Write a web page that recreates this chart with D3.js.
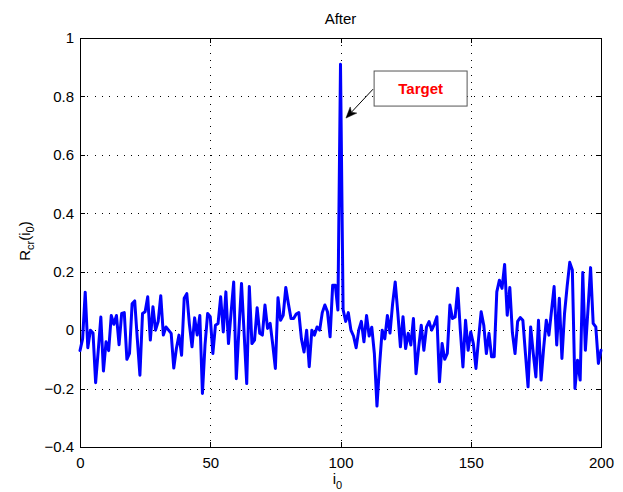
<!DOCTYPE html>
<html>
<head>
<meta charset="utf-8">
<script src="https://cdn.jsdelivr.net/npm/d3@7/dist/d3.min.js"></script>
<style>
  html, body { margin: 0; padding: 0; background: #fff; }
  svg { display: block; font-family: "Liberation Sans", Arial, Helvetica, sans-serif; }
</style>
</head>
<body>
<svg id="chart" width="623" height="492"></svg>
<script>
// ---------------- data ----------------
const titleText = "After";
const xTicks = [0, 50, 100, 150, 200];
const xTickLabels = ["0", "50", "100", "150", "200"];
const yTicks = [-0.4, -0.2, 0, 0.2, 0.4, 0.6, 0.8, 1];
const yTickLabels = ["\u22120.4", "\u22120.2", "0", "0.2", "0.4", "0.6", "0.8", "1"];
const xDomain = [0, 200];
const yDomain = [-0.4, 1];

// R_cr(i0) for i0 = 0..200
const rcr = [
  -0.07,-0.03,0.13,-0.06,0.0,-0.01,-0.18,-0.07,0.045,-0.14,
  -0.04,-0.07,0.05,0.02,0.05,-0.05,0.057,0.06,-0.1,-0.08,
  0.09,0.10,-0.03,-0.154,0.057,0.063,0.114,-0.034,0.08,0.0,
  0.029,0.118,-0.017,0.011,0.0,-0.011,-0.13,-0.063,-0.017,-0.086,
  0.109,0.125,0.02,-0.057,0.042,-0.017,0.05,-0.217,-0.05,0.057,
  0.046,-0.08,0.017,0.023,0.114,-0.006,0.131,-0.046,0.06,0.165,
  -0.166,0.0,0.16,-0.01,-0.183,0.149,-0.046,-0.034,0.077,-0.011,
  -0.017,0.086,0.006,0.023,-0.05,-0.131,0.111,0.034,0.051,0.146,
  0.09,0.04,0.04,0.055,0.06,-0.03,-0.075,0.0,-0.125,0.0,
  -0.017,0.011,0.0,0.06,0.086,0.063,-0.023,0.154,0.154,0.069,
  0.91,0.07,0.03,0.06,0.0,-0.02,-0.06,0.0,0.03,-0.04,
  0.05,-0.02,0.01,-0.08,-0.26,-0.12,0.0,-0.03,0.05,-0.01,
  0.09,0.165,0.06,-0.057,0.046,-0.063,-0.011,-0.051,0.04,-0.149,
  -0.06,0.017,-0.069,0.01,0.029,0.0,0.02,0.046,-0.177,-0.046,
  -0.1,-0.08,0.086,0.04,0.045,0.143,0.0,-0.126,0.034,-0.069,
  -0.006,-0.046,-0.131,-0.03,0.063,0.017,-0.08,-0.011,-0.091,-0.091,
  0.131,0.171,0.143,0.225,0.051,0.146,-0.01,-0.08,0.03,0.043,
  0.034,-0.08,-0.194,0.011,-0.08,-0.16,0.034,-0.171,-0.06,0.034,
  -0.017,0.066,0.149,-0.051,0.109,-0.097,0.057,0.15,0.232,0.206,
  -0.2,-0.103,-0.171,0.197,-0.069,0.07,0.214,0.023,0.011,-0.114,
  -0.069
];
const i0 = d3.range(rcr.length);

// annotation (data units)
const annoText = "Target";
const annoBox = { x0: 112.9, x1: 148.6, y0: 0.887, y1: 0.767 };
const annoArrow = { fromX: 112.5, fromY: 0.825, toX: 102.1, toY: 0.726 };

// ---------------- layout ----------------
const svg = d3.select("#chart");
const W = 623, H = 492;
const plot = { left: 80, right: 601, top: 38, bottom: 447 };
const FS = 15;

svg.append("rect").attr("width", W).attr("height", H).attr("fill", "#fff");

const x = d3.scaleLinear().domain(xDomain).range([plot.left, plot.right]);
const y = d3.scaleLinear().domain(yDomain).range([plot.bottom, plot.top]);

// grid
const grid = svg.append("g").attr("stroke", "#000").attr("stroke-width", 1)
  .attr("stroke-dasharray", "1,6.3").attr("shape-rendering", "crispEdges");
grid.selectAll("line.gx").data(xTicks.filter(t => t > xDomain[0] && t < xDomain[1])).join("line")
  .attr("x1", d => Math.round(x(d)) + 0.5).attr("x2", d => Math.round(x(d)) + 0.5)
  .attr("y1", plot.top).attr("y2", plot.bottom);
grid.selectAll("line.gy").data(yTicks.filter(t => t > yDomain[0] && t < yDomain[1])).join("line")
  .attr("y1", d => Math.round(y(d)) + 0.5).attr("y2", d => Math.round(y(d)) + 0.5)
  .attr("x1", plot.left).attr("x2", plot.right);

// axes (inward ticks on all sides)
function styleAxis(g) {
  g.select(".domain").remove();
  g.selectAll(".tick line").attr("stroke", "#000").attr("shape-rendering", "crispEdges");
  g.selectAll(".tick text").attr("fill", "#000").attr("font-size", FS)
    .attr("font-family", "'Liberation Sans', Arial, Helvetica, sans-serif");
}
const xAxisB = d3.axisBottom(x).tickValues(xTicks).tickSize(-5).tickPadding(10)
  .tickFormat((d, i) => xTickLabels[i]);
svg.append("g").attr("transform", `translate(0,${plot.bottom})`).call(xAxisB).call(styleAxis);
svg.append("g").attr("transform", `translate(0,${plot.top})`)
  .call(d3.axisTop(x).tickValues(xTicks).tickSize(-5).tickFormat(() => "")).call(styleAxis);
const yAxisL = d3.axisLeft(y).tickValues(yTicks).tickSize(-5).tickPadding(6)
  .tickFormat((d, i) => yTickLabels[i]);
svg.append("g").attr("transform", `translate(${plot.left},0)`).call(yAxisL).call(styleAxis);
svg.append("g").attr("transform", `translate(${plot.right},0)`)
  .call(d3.axisRight(y).tickValues(yTicks).tickSize(-5).tickFormat(() => "")).call(styleAxis);

// frame
svg.append("rect")
  .attr("x", plot.left + 0.5).attr("y", plot.top + 0.5)
  .attr("width", plot.right - plot.left).attr("height", plot.bottom - plot.top)
  .attr("fill", "none").attr("stroke", "#000").attr("stroke-width", 1);

// data line
const line = d3.line().x((d, k) => x(i0[k])).y(d => y(d));
svg.append("path").datum(rcr)
  .attr("d", line)
  .attr("fill", "none").attr("stroke", "#0000ff").attr("stroke-width", 3)
  .attr("stroke-linejoin", "round").attr("stroke-linecap", "round");

// title
svg.append("text").attr("x", (plot.left + plot.right) / 2).attr("y", 23.5)
  .attr("text-anchor", "middle").attr("font-size", FS).text(titleText);

// x label i_0
const xl = svg.append("text").attr("x", (plot.left + plot.right) / 2 - 3).attr("y", 484)
  .attr("text-anchor", "middle").attr("font-size", FS);
xl.append("tspan").text("i");
xl.append("tspan").attr("font-size", 11).attr("dy", 5).text("0");

// y label R_cr(i_0)
const yl = svg.append("text").attr("transform", "translate(30,241) rotate(-90)")
  .attr("text-anchor", "middle").attr("font-size", FS);
yl.append("tspan").text("R");
yl.append("tspan").attr("font-size", 11).attr("dy", 4).text("cr");
yl.append("tspan").attr("dy", -4).text("(i");
yl.append("tspan").attr("font-size", 11).attr("dy", 4).text("0");
yl.append("tspan").attr("dy", -4).text(")");

// annotation arrow
const ax1 = x(annoArrow.fromX), ay1 = y(annoArrow.fromY);
const ax2 = x(annoArrow.toX), ay2 = y(annoArrow.toY);
const ang = Math.atan2(ay2 - ay1, ax2 - ax1);
const headLen = 11, headW = 4.5, notch = 3;
const bx = ax2 - headLen * Math.cos(ang), by = ay2 - headLen * Math.sin(ang);
svg.append("line").attr("x1", ax1).attr("y1", ay1)
  .attr("x2", ax2 - (headLen - notch) * Math.cos(ang)).attr("y2", ay2 - (headLen - notch) * Math.sin(ang))
  .attr("stroke", "#000").attr("stroke-width", 1);
const px = -Math.sin(ang), py = Math.cos(ang);
const nx = ax2 - (headLen - notch) * Math.cos(ang), ny = ay2 - (headLen - notch) * Math.sin(ang);
svg.append("path")
  .attr("d", `M${ax2},${ay2} L${bx + px * headW},${by + py * headW} L${nx},${ny} L${bx - px * headW},${by - py * headW} Z`)
  .attr("fill", "#000").attr("stroke", "#000").attr("stroke-width", 0.5);

// annotation box
svg.append("rect")
  .attr("x", x(annoBox.x0)).attr("y", y(annoBox.y0))
  .attr("width", x(annoBox.x1) - x(annoBox.x0)).attr("height", y(annoBox.y1) - y(annoBox.y0))
  .attr("fill", "#fff").attr("stroke", "#555").attr("stroke-width", 1);
svg.append("text")
  .attr("x", (x(annoBox.x0) + x(annoBox.x1)) / 2)
  .attr("y", (y(annoBox.y0) + y(annoBox.y1)) / 2 + 5.5)
  .attr("text-anchor", "middle").attr("font-size", 15).attr("font-weight", "bold")
  .attr("fill", "#ff0000").text(annoText);
</script>
</body>
</html>
